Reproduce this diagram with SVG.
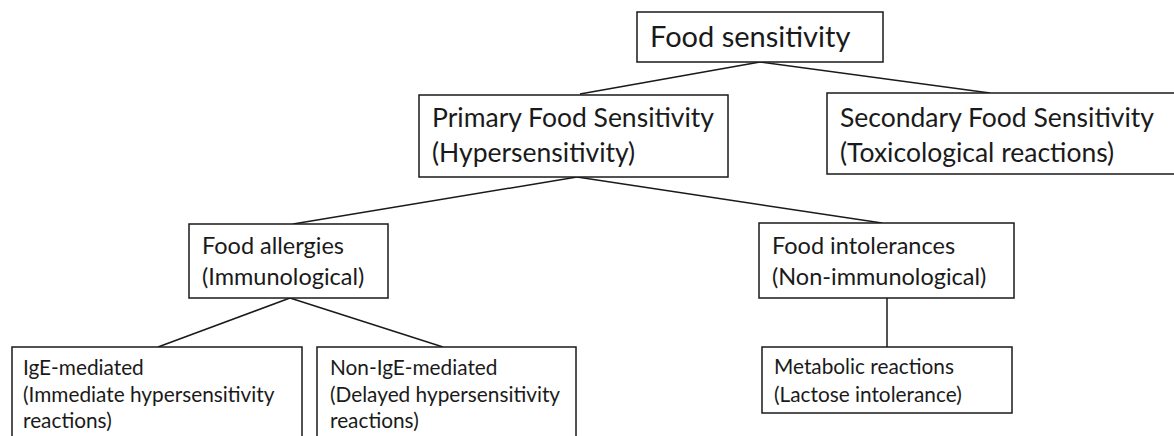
<svg xmlns="http://www.w3.org/2000/svg" width="1174" height="436" viewBox="0 0 1174 436">
<style>
.box{fill:#fff;stroke:#1a1a1a;stroke-width:1.5}
.t{font-family:Lato,"Open Sans","Liberation Sans",sans-serif;fill:#1a1a1a}
.l0{font-size:29px}.l1{font-size:26.5px}.l2{font-size:23.5px}.l3{font-size:20.8px}
.c{stroke:#1a1a1a;stroke-width:1.5;fill:none}
</style>
<rect width="1174" height="436" fill="#fff"/>
<g id="connectors">
<line class="c" x1="760" y1="62" x2="580" y2="94"/>
<line class="c" x1="760" y1="62" x2="990" y2="93"/>
<line class="c" x1="577" y1="177" x2="293" y2="224"/>
<line class="c" x1="577" y1="177" x2="882" y2="223"/>
<line class="c" x1="290" y1="298" x2="158" y2="347"/>
<line class="c" x1="290" y1="298" x2="443" y2="347"/>
<line class="c" x1="887" y1="298" x2="887" y2="347"/>
</g>
<g id="food-sensitivity">
<rect class="box" x="637" y="12" width="246" height="50"/>
<text class="t l0" x="650" y="47">Food sensitivity</text>
</g>
<g id="primary">
<rect class="box" x="419" y="95" width="309" height="82"/>
<text class="t l1" x="432" y="127">Primary Food Sensitivity</text>
<text class="t l1" x="432" y="162">(Hypersensitivity)</text>
</g>
<g id="secondary">
<rect class="box" x="827" y="93" width="360" height="81"/>
<text class="t l1" x="840" y="127">Secondary Food Sensitivity</text>
<text class="t l1" x="840" y="162">(Toxicological reactions)</text>
</g>
<g id="allergies">
<rect class="box" x="189" y="224" width="199" height="74"/>
<text class="t l2" x="202" y="254">Food allergies</text>
<text class="t l2" x="202" y="285">(Immunological)</text>
</g>
<g id="intolerances">
<rect class="box" x="759" y="223" width="255" height="75"/>
<text class="t l2" x="772" y="254">Food intolerances</text>
<text class="t l2" x="772" y="285">(Non-immunological)</text>
</g>
<g id="ige">
<rect class="box" x="12" y="347" width="290" height="110"/>
<text class="t l3" x="23" y="375">IgE-mediated</text>
<text class="t l3" x="23" y="402">(Immediate hypersensitivity</text>
<text class="t l3" x="23" y="428">reactions)</text>
</g>
<g id="non-ige">
<rect class="box" x="317" y="347" width="259" height="110"/>
<text class="t l3" x="330" y="375">Non-IgE-mediated</text>
<text class="t l3" x="330" y="402">(Delayed hypersensitivity</text>
<text class="t l3" x="330" y="428">reactions)</text>
</g>
<g id="metabolic">
<rect class="box" x="762" y="347" width="250" height="66"/>
<text class="t l3" x="774" y="374">Metabolic reactions</text>
<text class="t l3" x="774" y="402">(Lactose intolerance)</text>
</g>
</svg>
